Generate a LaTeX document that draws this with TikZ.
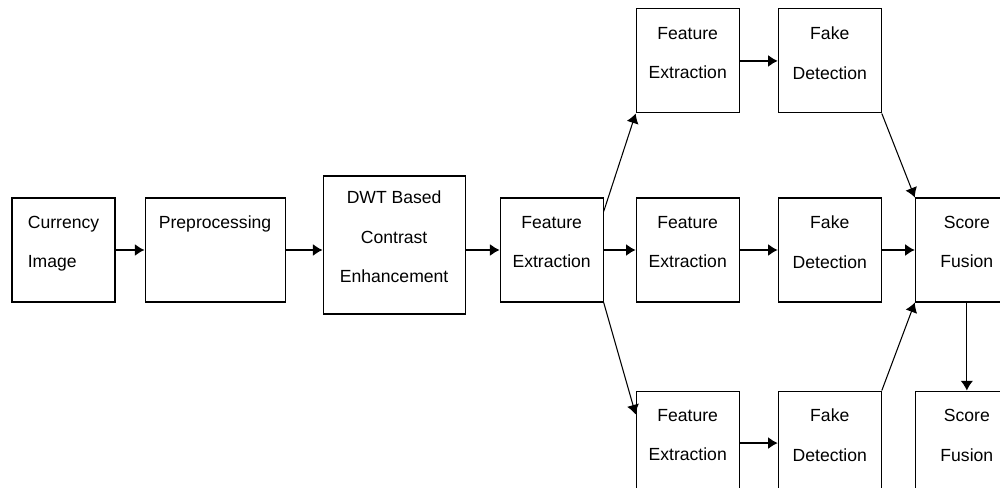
\documentclass[tikz,border=0pt]{standalone}
\usepackage{fontspec}
\setmainfont{Liberation Sans}
\usetikzlibrary{arrows.meta,positioning,calc}

\begin{document}
\begin{tikzpicture}[
    node distance=0.64cm and 0.64cm,
    >={Latex[length=5.5pt,width=7pt]},
    every node/.style={font=\fontsize{10}{22.5}\selectfont},
    box/.style={draw, line width=0.6pt, minimum width=2.06cm,
                minimum height=2.08cm, align=center, inner sep=0pt,
                text depth=9pt},
    flow/.style={->, line width=1.1pt},
    branch/.style={->, line width=0.6pt},
]
\clip (0,0) rectangle (20,-9.76);

% --- Main chain ---
\node[box, align=left] (cur) at (1.27,-5.0) {Currency\\Image};
\node[box, minimum width=2.8cm, right=0.58cm of cur] (pre)
    {Preprocessing\\\mbox{}};
\node[box, minimum width=2.84cm, minimum height=2.76cm,
      right=0.74cm of pre, yshift=0.1cm] (dwt)
    {DWT Based\\Contrast\\Enhancement};
\node[box, right=0.68cm of dwt, yshift=-0.1cm] (fe) {Feature\\Extraction};

% --- Middle branch ---
\node[box, right=of fe] (femid) {Feature\\Extraction};
\node[box, right=0.76cm of femid] (fdmid) {Fake\\Detection};
\node[box, right=0.66cm of fdmid] (sf) {Score\\Fusion};

% --- Upper and lower branches ---
\node[box, above=1.68cm of femid] (fetop) {Feature\\Extraction};
\node[box, above=1.68cm of fdmid] (fdtop) {Fake\\Detection};
\node[box, below=1.76cm of femid] (febot) {Feature\\Extraction};
\node[box, below=1.76cm of fdmid] (fdbot) {Fake\\Detection};
\node[box, below=1.76cm of sf] (sfbot) {Score\\Fusion};

% --- Arrows ---
\draw[flow] (cur) -- (pre);
\draw[flow] (pre) -- (pre -| dwt.west);
\draw[flow] (fe -| dwt.east) -- (fe);
\draw[flow] (fe) -- (femid);
\draw[flow] (femid) -- (fdmid);
\draw[flow] (fdmid) -- (sf);
\draw[flow] (fetop) -- (fdtop);
\draw[flow] (febot) -- (fdbot);

\draw[branch] ([yshift=-0.28cm]fe.north east) -- (fetop.south west);
\draw[branch] (fe.south east) -- ([yshift=-0.48cm]febot.north west);
\draw[branch] (fdtop.south east) -- (sf.north west);
\draw[branch] (fdbot.north east) -- (sf.south west);
\draw[branch] (sf) -- (sfbot);

\end{tikzpicture}
\end{document}
